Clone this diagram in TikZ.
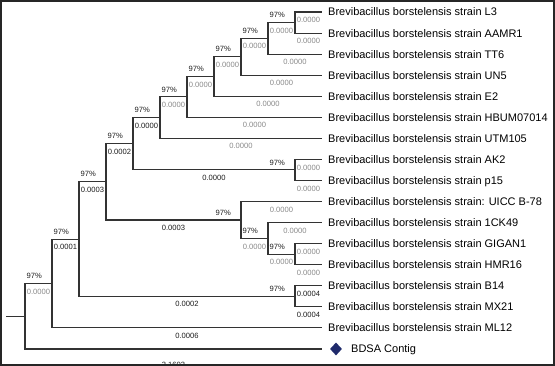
\documentclass[tikz,border=0pt]{standalone}
\usepackage{fontspec}
\setmainfont{Liberation Sans}
\usetikzlibrary{calc,shapes.geometric}
\definecolor{treeline}{HTML}{333333}
\definecolor{bltext}{HTML}{8A8A8A}
\definecolor{bsdark}{HTML}{1E1E1E}
\definecolor{navyblue}{HTML}{1F2A6B}
\tikzset{
  branch/.style={draw=treeline, line width=1.1pt},
  leaflabel/.style={anchor=base west, inner sep=0pt, font=\fontsize{11}{13}\selectfont, text=black},
  boot/.style={anchor=east, inner sep=0pt, font=\fontsize{7.6}{9}\selectfont, text=bsdark, xshift=-10pt, yshift=7.5pt},
  blen/.style={inner sep=0pt, font=\fontsize{7.6}{9}\selectfont, text=bltext, yshift=-8pt},
  blendark/.style={blen, text=bsdark},
  outgroup/.style={diamond, fill=navyblue, inner sep=0pt, minimum width=12pt, minimum height=13pt},
}
\newcommand\brlen[4][blen]{\path ($(#2|-#3)!.5!(#3)$) node[#1] {#4};}
\newcommand\bootlab[1]{\path (#1) node[boot] {97\%};}
\begin{document}
\begin{tikzpicture}[x=1pt,y=-1pt]
\useasboundingbox (0,0) rectangle (555,366);
\clip (0,0) rectangle (555,366);
% leaf ends
\coordinate (e0) at (322,12.00);
\coordinate (e1) at (322,33.06);
\coordinate (e2) at (322,54.12);
\coordinate (e3) at (322,75.18);
\coordinate (e4) at (322,96.24);
\coordinate (e5) at (322,117.30);
\coordinate (e6) at (322,138.36);
\coordinate (e7) at (322,159.42);
\coordinate (e8) at (322,180.48);
\coordinate (e9) at (322,201.54);
\coordinate (e10) at (322,222.60);
\coordinate (e11) at (322,243.66);
\coordinate (e12) at (322,264.72);
\coordinate (e13) at (322,285.78);
\coordinate (e14) at (322,306.84);
\coordinate (e15) at (322,327.90);
\coordinate (e16) at (322,348.96);
% internal nodes
\coordinate (n1) at (295,22.53);
\coordinate (n2) at (268,38.33);
\coordinate (n3) at (241,56.75);
\coordinate (n4) at (214,76.50);
\coordinate (n5) at (187,96.90);
\coordinate (n6) at (160,117.63);
\coordinate (n8) at (295,169.95);
\coordinate (n7) at (133,143.79);
\coordinate (n12) at (295,254.19);
\coordinate (n11) at (268,238.40);
\coordinate (n10) at (241,219.97);
\coordinate (n9) at (106,181.88);
\coordinate (n13) at (295,296.31);
\coordinate (n14) at (79,239.10);
\coordinate (n15) at (52,283.50);
\coordinate (r) at (25,316.23);
\coordinate (s) at (6,316.23);
% branches
\draw[branch] (n1) |- (e0); \draw[branch] (n1) |- (e1);
\draw[branch] (n2) |- (n1); \draw[branch] (n2) |- (e2);
\draw[branch] (n3) |- (n2); \draw[branch] (n3) |- (e3);
\draw[branch] (n4) |- (n3); \draw[branch] (n4) |- (e4);
\draw[branch] (n5) |- (n4); \draw[branch] (n5) |- (e5);
\draw[branch] (n6) |- (n5); \draw[branch] (n6) |- (e6);
\draw[branch] (n8) |- (e7); \draw[branch] (n8) |- (e8);
\draw[branch] (n7) |- (n6); \draw[branch] (n7) |- (n8);
\draw[branch] (n12) |- (e11); \draw[branch] (n12) |- (e12);
\draw[branch] (n11) |- (e10); \draw[branch] (n11) |- (n12);
\draw[branch] (n10) |- (e9); \draw[branch] (n10) |- (n11);
\draw[branch] (n9) |- (n7); \draw[branch] (n9) |- (n10);
\draw[branch] (n13) |- (e13); \draw[branch] (n13) |- (e14);
\draw[branch] (n14) |- (n9); \draw[branch] (n14) |- (n13);
\draw[branch] (n15) |- (n14); \draw[branch] (n15) |- (e15);
\draw[branch] (r) |- (n15); \draw[branch] (r) |- (e16);
\draw[branch] (s) -- (r);
% leaf names
\node[leaflabel] (t0) at (328,16.00) {Brevibacillus borstelensis strain L3};
\node[leaflabel] (t1) at (328,37.06) {Brevibacillus borstelensis strain AAMR1};
\node[leaflabel] (t2) at (328,58.12) {Brevibacillus borstelensis strain TT6};
\node[leaflabel] (t3) at (328,79.18) {Brevibacillus borstelensis strain UN5};
\node[leaflabel] (t4) at (328,100.24) {Brevibacillus borstelensis strain E2};
\node[leaflabel] (t5) at (328,121.30) {Brevibacillus borstelensis strain HBUM07014};
\node[leaflabel] (t6) at (328,142.36) {Brevibacillus borstelensis strain UTM105};
\node[leaflabel] (t7) at (328,163.42) {Brevibacillus borstelensis strain AK2};
\node[leaflabel] (t8) at (328,184.48) {Brevibacillus borstelensis strain p15};
\node[leaflabel] (t9) at (328,205.54) {Brevibacillus borstelensis strain: UICC B-78};
\node[leaflabel] (t10) at (328,226.60) {Brevibacillus borstelensis strain 1CK49};
\node[leaflabel] (t11) at (328,247.66) {Brevibacillus borstelensis strain GIGAN1};
\node[leaflabel] (t12) at (328,268.72) {Brevibacillus borstelensis strain HMR16};
\node[leaflabel] (t13) at (328,289.78) {Brevibacillus borstelensis strain B14};
\node[leaflabel] (t14) at (328,310.84) {Brevibacillus borstelensis strain MX21};
\node[leaflabel] (t15) at (328,331.90) {Brevibacillus borstelensis strain ML12};
\node[outgroup] (og) at (336,348.96) {};
\node[leaflabel] (t16) at (351,352.96) {BDSA Contig};
% bootstrap values
\bootlab{n1}\bootlab{n2}\bootlab{n3}\bootlab{n4}\bootlab{n5}
\bootlab{n6}\bootlab{n7}\bootlab{n8}\bootlab{n9}\bootlab{n10}
\bootlab{n11}\bootlab{n12}\bootlab{n13}\bootlab{n14}\bootlab{n15}
% branch lengths, internal
\brlen{n2}{n1}{0.0000}
\brlen{n3}{n2}{0.0000}
\brlen{n4}{n3}{0.0000}
\brlen{n5}{n4}{0.0000}
\brlen{n6}{n5}{0.0000}
\brlen[blendark]{n7}{n6}{0.0000}
\brlen[blendark]{n7}{n8}{0.0000}
\brlen[blendark]{n9}{n7}{0.0002}
\brlen[blendark]{n9}{n10}{0.0003}
\brlen{n10}{n11}{0.0000}
\brlen{n11}{n12}{0.0000}
\brlen[blendark]{n14}{n9}{0.0003}
\brlen[blendark]{n14}{n13}{0.0002}
\brlen[blendark]{n15}{n14}{0.0001}
\brlen{r}{n15}{0.0000}
% branch lengths, leaves
\brlen{n1}{e0}{0.0000}
\brlen{n1}{e1}{0.0000}
\brlen{n2}{e2}{0.0000}
\brlen{n3}{e3}{0.0000}
\brlen{n4}{e4}{0.0000}
\brlen{n5}{e5}{0.0000}
\brlen{n6}{e6}{0.0000}
\brlen{n8}{e7}{0.0000}
\brlen{n8}{e8}{0.0000}
\brlen{n10}{e9}{0.0000}
\brlen{n11}{e10}{0.0000}
\brlen{n12}{e11}{0.0000}
\brlen{n12}{e12}{0.0000}
\brlen[blendark]{n13}{e13}{0.0004}
\brlen[blendark]{n13}{e14}{0.0004}
\brlen[blendark]{n15}{e15}{0.0006}
\brlen[blendark,yshift=-7.5pt]{r}{e16}{3.1603}
% frame
\draw[line width=1.6pt, draw=black!85] (0.8,0.8) rectangle (554.2,365.2);
\end{tikzpicture}
\end{document}
